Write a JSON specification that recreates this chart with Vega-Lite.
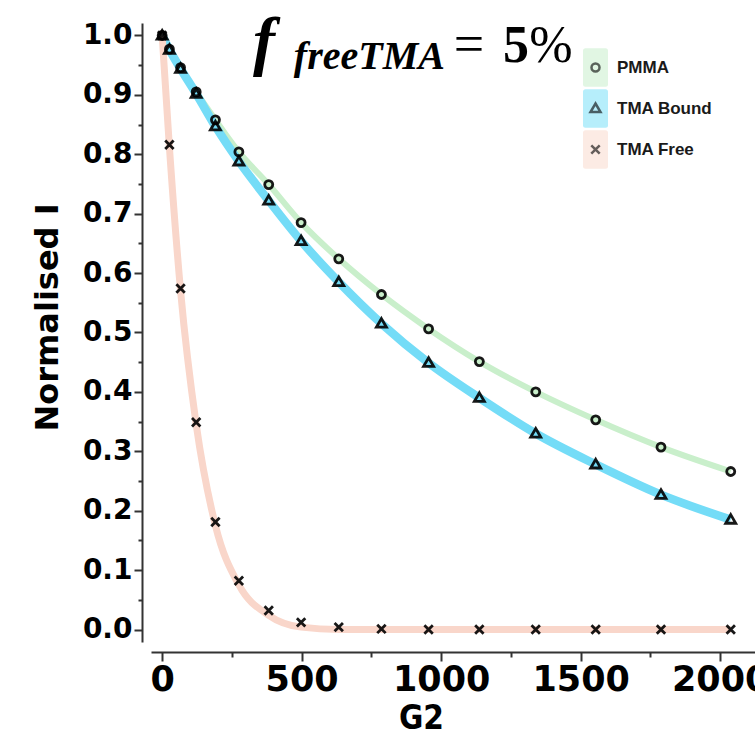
{
  "$schema": "https://vega.github.io/schema/vega-lite/v6.json",
  "width": 604,
  "height": 619,
  "autosize": {"type": "none"},
  "padding": {"left": 151, "top": 23, "right": 0, "bottom": 113},
  "background": "white",
  "config": {"view": {"stroke": null}, "axis": {"grid": false}},
  "datasets": {
    "pts": [
      {"G2": 0, "I": 1.0, "name": "PMMA"}, {"G2": 26, "I": 0.977, "name": "PMMA"}, {"G2": 66, "I": 0.946, "name": "PMMA"}, {"G2": 122, "I": 0.905, "name": "PMMA"},
      {"G2": 191, "I": 0.858, "name": "PMMA"}, {"G2": 275, "I": 0.804, "name": "PMMA"}, {"G2": 382, "I": 0.749, "name": "PMMA"}, {"G2": 498, "I": 0.685, "name": "PMMA"},
      {"G2": 633, "I": 0.624, "name": "PMMA"}, {"G2": 786, "I": 0.564, "name": "PMMA"}, {"G2": 955, "I": 0.506, "name": "PMMA"}, {"G2": 1137, "I": 0.451, "name": "PMMA"},
      {"G2": 1339, "I": 0.4, "name": "PMMA"}, {"G2": 1554, "I": 0.353, "name": "PMMA"}, {"G2": 1788, "I": 0.307, "name": "PMMA"}, {"G2": 2038, "I": 0.266, "name": "PMMA"},
      {"G2": 0, "I": 1.0, "name": "TMA Bound"}, {"G2": 26, "I": 0.976, "name": "TMA Bound"}, {"G2": 66, "I": 0.944, "name": "TMA Bound"}, {"G2": 122, "I": 0.902, "name": "TMA Bound"},
      {"G2": 191, "I": 0.847, "name": "TMA Bound"}, {"G2": 275, "I": 0.788, "name": "TMA Bound"}, {"G2": 382, "I": 0.722, "name": "TMA Bound"}, {"G2": 498, "I": 0.654, "name": "TMA Bound"},
      {"G2": 633, "I": 0.585, "name": "TMA Bound"}, {"G2": 786, "I": 0.515, "name": "TMA Bound"}, {"G2": 955, "I": 0.449, "name": "TMA Bound"}, {"G2": 1137, "I": 0.39, "name": "TMA Bound"},
      {"G2": 1339, "I": 0.33, "name": "TMA Bound"}, {"G2": 1554, "I": 0.278, "name": "TMA Bound"}, {"G2": 1788, "I": 0.227, "name": "TMA Bound"}, {"G2": 2038, "I": 0.185, "name": "TMA Bound"},
      {"G2": 0, "I": 1.0, "name": "TMA Free"}, {"G2": 26, "I": 0.816, "name": "TMA Free"}, {"G2": 66, "I": 0.574, "name": "TMA Free"}, {"G2": 122, "I": 0.349, "name": "TMA Free"},
      {"G2": 191, "I": 0.181, "name": "TMA Free"}, {"G2": 275, "I": 0.082, "name": "TMA Free"}, {"G2": 382, "I": 0.032, "name": "TMA Free"}, {"G2": 498, "I": 0.012, "name": "TMA Free"},
      {"G2": 633, "I": 0.004, "name": "TMA Free"}, {"G2": 786, "I": 0.001, "name": "TMA Free"}, {"G2": 955, "I": 0.0, "name": "TMA Free"}, {"G2": 1137, "I": 0.0, "name": "TMA Free"},
      {"G2": 1339, "I": 0.0, "name": "TMA Free"}, {"G2": 1554, "I": 0.0, "name": "TMA Free"}, {"G2": 1788, "I": 0.0, "name": "TMA Free"}, {"G2": 2038, "I": 0.0, "name": "TMA Free"}
    ],
    "fit": [
      {"G2": 0, "I": 1.0, "series": "PMMA"}, {"G2": 26, "I": 0.977, "series": "PMMA"}, {"G2": 66, "I": 0.946, "series": "PMMA"}, {"G2": 122, "I": 0.905, "series": "PMMA"},
      {"G2": 191, "I": 0.858, "series": "PMMA"}, {"G2": 275, "I": 0.804, "series": "PMMA"}, {"G2": 382, "I": 0.749, "series": "PMMA"}, {"G2": 498, "I": 0.685, "series": "PMMA"},
      {"G2": 633, "I": 0.624, "series": "PMMA"}, {"G2": 786, "I": 0.564, "series": "PMMA"}, {"G2": 955, "I": 0.506, "series": "PMMA"}, {"G2": 1137, "I": 0.451, "series": "PMMA"},
      {"G2": 1339, "I": 0.4, "series": "PMMA"}, {"G2": 1554, "I": 0.353, "series": "PMMA"}, {"G2": 1788, "I": 0.307, "series": "PMMA"}, {"G2": 2038, "I": 0.266, "series": "PMMA"},
      {"G2": 0, "I": 1.0, "series": "TMA Bound"}, {"G2": 26, "I": 0.976, "series": "TMA Bound"}, {"G2": 66, "I": 0.944, "series": "TMA Bound"}, {"G2": 122, "I": 0.902, "series": "TMA Bound"},
      {"G2": 191, "I": 0.847, "series": "TMA Bound"}, {"G2": 275, "I": 0.788, "series": "TMA Bound"}, {"G2": 382, "I": 0.722, "series": "TMA Bound"}, {"G2": 498, "I": 0.654, "series": "TMA Bound"},
      {"G2": 633, "I": 0.585, "series": "TMA Bound"}, {"G2": 786, "I": 0.515, "series": "TMA Bound"}, {"G2": 955, "I": 0.449, "series": "TMA Bound"}, {"G2": 1137, "I": 0.39, "series": "TMA Bound"},
      {"G2": 1339, "I": 0.33, "series": "TMA Bound"}, {"G2": 1554, "I": 0.278, "series": "TMA Bound"}, {"G2": 1788, "I": 0.227, "series": "TMA Bound"}, {"G2": 2038, "I": 0.185, "series": "TMA Bound"},
      {"G2": 0, "I": 1.0, "series": "TMA Free"}, {"G2": 26, "I": 0.812, "series": "TMA Free"}, {"G2": 66, "I": 0.57, "series": "TMA Free"}, {"G2": 122, "I": 0.345, "series": "TMA Free"},
      {"G2": 191, "I": 0.175, "series": "TMA Free"}, {"G2": 275, "I": 0.075, "series": "TMA Free"}, {"G2": 382, "I": 0.024, "series": "TMA Free"}, {"G2": 498, "I": 0.004, "series": "TMA Free"},
      {"G2": 633, "I": 0.0, "series": "TMA Free"}, {"G2": 786, "I": 0.0, "series": "TMA Free"}, {"G2": 955, "I": 0.0, "series": "TMA Free"}, {"G2": 1137, "I": 0.0, "series": "TMA Free"},
      {"G2": 1339, "I": 0.0, "series": "TMA Free"}, {"G2": 1554, "I": 0.0, "series": "TMA Free"}, {"G2": 1788, "I": 0.0, "series": "TMA Free"}, {"G2": 2038, "I": 0.0, "series": "TMA Free"}
    ]
  },
  "resolve": {"axis": {"x": "independent", "y": "independent"}},
  "layer": [
    {
      "data": {"name": "fit"},
      "transform": [{"filter": "datum.series === 'PMMA'"}],
      "mark": {"type": "line", "interpolate": "monotone", "strokeWidth": 6, "color": "#c9efcb"},
      "encoding": {
        "x": {"field": "G2", "type": "quantitative", "scale": {"domain": [-40, 2125], "nice": false, "zero": false},
          "axis": {"orient": "bottom", "offset": 10, "values": [0, 500, 1000, 1500, 2000], "format": "d",
            "labelFont": "DejaVu Sans", "labelFontWeight": "bold", "labelFontSize": 35, "labelColor": "#000", "labelPadding": 1,
            "labelFlush": false, "labelOverlap": false, "labelBound": false,
            "tickSize": 9, "tickWidth": 2, "tickColor": "#333", "domainColor": "#333", "domainWidth": 2,
            "title": "G2", "titleFont": "DejaVu Sans Condensed", "titleFontWeight": "bold", "titleFontSize": 33, "titleColor": "#000", "titlePadding": 5, "titleX": 270}},
        "y": {"field": "I", "type": "quantitative", "scale": {"domain": [-0.021, 1.021], "nice": false, "zero": false},
          "axis": {"orient": "left", "offset": 9, "values": [0, 0.1, 0.2, 0.3, 0.4, 0.5, 0.6, 0.7, 0.8, 0.9, 1.0], "format": ".1f",
            "labelFont": "DejaVu Sans", "labelFontWeight": "bold", "labelFontSize": 28, "labelColor": "#000", "labelPadding": 2,
            "labelFlush": false, "labelOverlap": false, "labelBound": false,
            "tickSize": 8, "tickWidth": 2, "tickColor": "#333", "domainColor": "#333", "domainWidth": 2,
            "title": "Normalised I", "titleFont": "DejaVu Sans", "titleFontWeight": "bold", "titleFontSize": 32, "titleColor": "#000", "titlePadding": 18, "titleY": 294}}
      }
    },
    {
      "data": {"name": "fit"},
      "transform": [{"filter": "datum.series === 'TMA Bound'"}],
      "mark": {"type": "line", "interpolate": "monotone", "strokeWidth": 8.5, "color": "#74dcf7"},
      "encoding": {
        "x": {"field": "G2", "type": "quantitative", "axis": null},
        "y": {"field": "I", "type": "quantitative", "axis": null}
      }
    },
    {
      "data": {"name": "fit"},
      "transform": [{"filter": "datum.series === 'TMA Free'"}],
      "mark": {"type": "line", "interpolate": "monotone", "strokeWidth": 7, "color": "#f9d6ca"},
      "encoding": {
        "x": {"field": "G2", "type": "quantitative", "axis": null},
        "y": {"field": "I", "type": "quantitative", "axis": null}
      }
    },
    {
      "data": {"name": "pts"},
      "transform": [{"filter": "false"}],
      "mark": {"type": "point", "filled": true, "shape": "M-0.5,-0.96 L0.5,-0.96 Q0.625,-0.96 0.625,-0.835 L0.625,0.835 Q0.625,0.96 0.5,0.96 L-0.5,0.96 Q-0.625,0.96 -0.625,0.835 L-0.625,-0.835 Q-0.625,-0.96 -0.5,-0.96 Z", "size": 1600, "opacity": 1},
      "encoding": {
        "x": {"field": "G2", "type": "quantitative", "axis": null},
        "y": {"field": "I", "type": "quantitative", "axis": null},
        "fill": {"field": "name", "type": "nominal",
          "scale": {"domain": ["PMMA", "TMA Bound", "TMA Free"], "range": ["#e1f6e3", "#b6eefb", "#fcebe4"]},
          "legend": {"orient": "none", "legendX": 423, "legendY": 24, "title": null, "clipHeight": 41,
            "symbolType": "M-0.5,-0.96 L0.5,-0.96 Q0.625,-0.96 0.625,-0.835 L0.625,0.835 Q0.625,0.96 0.5,0.96 L-0.5,0.96 Q-0.625,0.96 -0.625,0.835 L-0.625,-0.835 Q-0.625,-0.96 -0.5,-0.96 Z",
            "symbolSize": 1600, "symbolStrokeWidth": 2.5, "symbolStrokeColor": "transparent", "symbolOpacity": 1, "rowPadding": 0, "padding": 0,
            "labelFont": "Liberation Sans", "labelFontWeight": "bold", "labelFontSize": 17, "labelColor": "#1a1a1a", "labelOffset": 0}}
      }
    },
    {
      "data": {"name": "pts"},
      "mark": {"type": "point", "filled": false, "color": "#000", "strokeWidth": 2.8, "size": 1600, "opacity": 0.9},
      "encoding": {
        "x": {"field": "G2", "type": "quantitative",
          "axis": {"orient": "bottom", "offset": 10, "values": [250, 750, 1250, 1750], "labels": false, "domain": false, "title": null,
            "tickSize": 5, "tickWidth": 2, "tickColor": "#333"}},
        "y": {"field": "I", "type": "quantitative",
          "axis": {"orient": "left", "offset": 9, "values": [0.05, 0.15, 0.25, 0.35, 0.45, 0.55, 0.65, 0.75, 0.85, 0.95], "labels": false, "domain": false, "title": null,
            "tickSize": 4, "tickWidth": 2, "tickColor": "#333"}},
        "shape": {"field": "name", "type": "nominal",
          "scale": {"domain": ["TMA Free", "TMA Bound", "PMMA"],
            "range": ["M-0.21,-0.21 L0.21,0.21 M-0.21,0.21 L0.21,-0.21", "M0,-0.25 L0.25,0.18 L-0.25,0.18 Z", "M0.2,0 A0.2,0.2 0 1,1 -0.2,0 A0.2,0.2 0 1,1 0.2,0 Z"]},
          "legend": {"orient": "none", "legendX": 423, "legendY": 24, "title": null, "values": ["PMMA", "TMA Bound", "TMA Free"], "clipHeight": 41,
            "symbolSize": 1600, "symbolStrokeWidth": 2.5,
            "symbolStrokeColor": "#000", "symbolFillColor": "transparent", "symbolOpacity": 0.6, "rowPadding": 0, "padding": 0, "labelExpr": "''", "labelFontSize": 17, "labelOffset": 2}}
      }
    },
    {
      "data": {"values": [{}]},
      "mark": {"type": "text", "font": "Liberation Serif", "fontStyle": "italic", "fontWeight": "bold", "fontSize": 66, "align": "left", "baseline": "alphabetic", "color": "#000"},
      "encoding": {"x": {"datum": 326, "type": "quantitative", "axis": null}, "y": {"datum": 0.953, "type": "quantitative", "axis": null}, "text": {"value": "f"}}
    },
    {
      "data": {"values": [{}]},
      "mark": {"type": "text", "font": "Liberation Serif", "fontStyle": "italic", "fontWeight": "bold", "fontSize": 40, "align": "left", "baseline": "alphabetic", "color": "#000"},
      "encoding": {"x": {"datum": 472, "type": "quantitative", "axis": null}, "y": {"datum": 0.944, "type": "quantitative", "axis": null}, "text": {"value": "freeTMA"}}
    },
    {
      "data": {"values": [{}]},
      "mark": {"type": "text", "font": "Liberation Serif", "fontSize": 54, "align": "left", "baseline": "alphabetic", "color": "#000"},
      "encoding": {"x": {"datum": 1045, "type": "quantitative", "axis": null}, "y": {"datum": 0.955, "type": "quantitative", "axis": null}, "text": {"value": "="}}
    },
    {
      "data": {"values": [{}]},
      "mark": {"type": "text", "font": "Liberation Serif", "fontWeight": "bold", "fontSize": 52, "align": "left", "baseline": "alphabetic", "color": "#000"},
      "encoding": {"x": {"datum": 1222, "type": "quantitative", "axis": null}, "y": {"datum": 0.955, "type": "quantitative", "axis": null}, "text": {"value": "5"}}
    },
    {
      "data": {"values": [{}]},
      "mark": {"type": "text", "font": "Liberation Serif", "fontSize": 52, "align": "left", "baseline": "alphabetic", "color": "#000"},
      "encoding": {"x": {"datum": 1316, "type": "quantitative", "axis": null}, "y": {"datum": 0.955, "type": "quantitative", "axis": null}, "text": {"value": "%"}}
    }
  ]
}
